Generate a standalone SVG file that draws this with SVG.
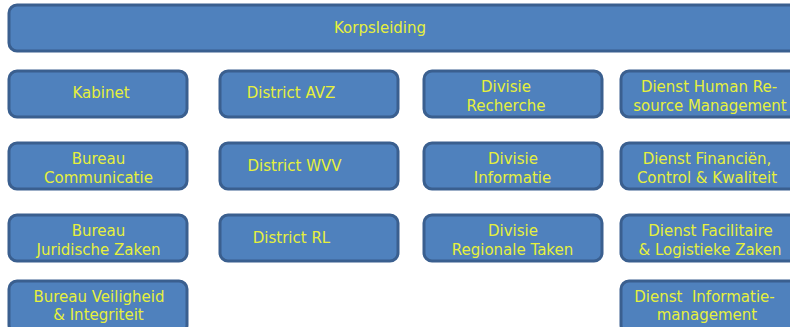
<svg xmlns="http://www.w3.org/2000/svg" width="790" height="327" viewBox="0 0 790 327">
<style>
.b{fill:#4F81BD;stroke:#3A5F8F;stroke-width:3}
.t{font-family:"DejaVu Sans",sans-serif;font-size:15px;fill:#E6F03C;text-anchor:middle}
</style>
<rect width="790" height="327" fill="#ffffff"/>
<g id="korpsleiding"><rect class="b" x="9" y="5" width="800" height="46" rx="8"/><text class="t" x="380" y="32.5">Korpsleiding</text></g>
<g id="kabinet"><rect class="b" x="9" y="71" width="178" height="46" rx="8"/><text class="t" x="101" y="98">Kabinet</text></g>
<g id="bureau-communicatie"><rect class="b" x="9" y="143" width="178" height="46" rx="8"/><text class="t" x="98.5" y="164">Bureau</text><text class="t" x="98.5" y="183">Communicatie</text></g>
<g id="bureau-juridische-zaken"><rect class="b" x="9" y="215" width="178" height="46" rx="8"/><text class="t" x="98.5" y="236">Bureau</text><text class="t" x="98.5" y="255">Juridische Zaken</text></g>
<g id="bureau-veiligheid"><rect class="b" x="9" y="281" width="178" height="52" rx="8"/><text class="t" x="99" y="302">Bureau Veiligheid</text><text class="t" x="98.5" y="320">&amp; Integriteit</text></g>
<g id="district-avz"><rect class="b" x="220" y="71" width="178" height="46" rx="8"/><text class="t" x="291" y="98">District AVZ</text></g>
<g id="district-wvv"><rect class="b" x="220" y="143" width="178" height="46" rx="8"/><text class="t" x="294.5" y="170.5">District WVV</text></g>
<g id="district-rl"><rect class="b" x="220" y="215" width="178" height="46" rx="8"/><text class="t" x="291.5" y="242.5">District RL</text></g>
<g id="divisie-recherche"><rect class="b" x="424" y="71" width="178" height="46" rx="8"/><text class="t" x="506" y="92">Divisie</text><text class="t" x="506" y="110.5">Recherche</text></g>
<g id="divisie-informatie"><rect class="b" x="424" y="143" width="178" height="46" rx="8"/><text class="t" x="513" y="164">Divisie</text><text class="t" x="512.5" y="183">Informatie</text></g>
<g id="divisie-regionale-taken"><rect class="b" x="424" y="215" width="178" height="46" rx="8"/><text class="t" x="513" y="236">Divisie</text><text class="t" x="512.5" y="255">Regionale Taken</text></g>
<g id="dienst-hrm"><rect class="b" x="621" y="71" width="180" height="46" rx="8"/><text class="t" x="709" y="92">Dienst Human Re-</text><text class="t" x="710" y="110.5">source Management</text></g>
<g id="dienst-financien"><rect class="b" x="621" y="143" width="180" height="46" rx="8"/><text class="t" x="707" y="164">Dienst Financiën,</text><text class="t" x="707" y="183">Control &amp; Kwaliteit</text></g>
<g id="dienst-facilitaire"><rect class="b" x="621" y="215" width="180" height="46" rx="8"/><text class="t" x="710.5" y="236">Dienst Facilitaire</text><text class="t" x="710" y="255">&amp; Logistieke Zaken</text></g>
<g id="dienst-informatiemanagement"><rect class="b" x="621" y="281" width="180" height="52" rx="8"/><text class="t" x="704.5" y="302" xml:space="preserve">Dienst  Informatie-</text><text class="t" x="707" y="320">management</text></g>
<g id="connectors"/>
</svg>
